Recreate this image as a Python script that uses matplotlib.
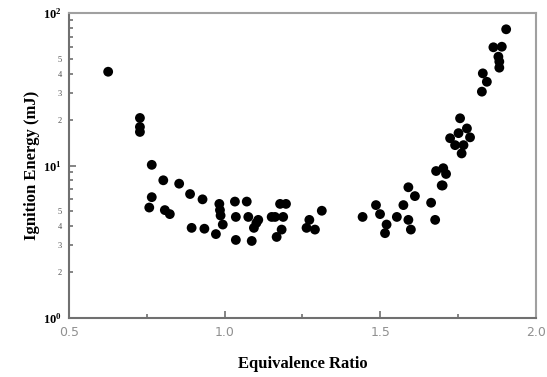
import matplotlib.pyplot as plt
import numpy as np
from matplotlib.ticker import LogLocator, FixedLocator, FuncFormatter

# Equivalence ratio vs minimum ignition energy
phi = [0.626, 0.728, 0.728, 0.728, 0.766, 0.803, 0.854, 0.766, 0.758, 0.808,
       0.824, 0.889, 0.929, 0.894, 0.935, 0.972, 0.983, 0.985, 0.987, 0.994,
       1.033, 1.036, 1.036, 1.071, 1.076, 1.108, 1.094, 1.087, 1.102, 1.178,
       1.197, 1.151, 1.162, 1.188, 1.183, 1.167, 1.312, 1.272, 1.263, 1.290,
       1.443, 1.486, 1.499, 1.520, 1.515, 1.553, 1.574, 1.590, 1.611, 1.590,
       1.598, 1.663, 1.676, 1.700, 1.679, 1.702, 1.711, 1.697, 1.904, 1.863,
       1.890, 1.879, 1.882, 1.882, 1.829, 1.842, 1.826, 1.756, 1.778, 1.751,
       1.724, 1.788, 1.740, 1.767, 1.761]
energy = [41.2, 20.5, 17.9, 16.6, 10.1, 8.0, 7.6, 6.2, 5.3, 5.1,
          4.8, 6.5, 6.0, 3.9, 3.85, 3.55, 5.6, 5.1, 4.7, 4.1,
          5.8, 4.6, 3.25, 5.8, 4.6, 4.4, 3.9, 3.2, 4.2, 5.6,
          5.6, 4.6, 4.6, 4.6, 3.8, 3.4, 5.05, 4.4, 3.9, 3.8,
          4.6, 5.5, 4.8, 4.1, 3.6, 4.6, 5.5, 7.2, 6.3, 4.4,
          3.8, 5.7, 4.4, 7.4, 9.2, 9.6, 8.8, 7.4, 78.2, 59.6,
          60.1, 51.7, 48.0, 43.8, 40.2, 35.4, 30.5, 20.4, 17.5, 16.3,
          15.1, 15.3, 13.6, 13.6, 12.0]

serif = 'Liberation Serif'
grey = '#707070'
plt.rcParams['mathtext.fontset'] = 'custom'
plt.rcParams['mathtext.rm'] = serif
plt.rcParams['mathtext.bf'] = serif + ':bold'

fig = plt.figure(figsize=(5.47, 3.77), dpi=100)
ax = fig.add_axes([0.126, 0.1565, 0.854, 0.809])

ax.scatter(phi, energy, s=50, color='black', edgecolors='none', zorder=3)

ax.set_yscale('log')
ax.set_xlim(0.5, 2.0)
ax.set_ylim(1, 100)

# x ticks
ax.set_xticks([0.5, 1.0, 1.5, 2.0])
ax.set_xticklabels(['0.5', '1.0', '1.5', '2.0'])
ax.xaxis.set_minor_locator(FixedLocator([0.75, 1.25, 1.75]))


def minor_label(v, p):
    m = int(round(v / 10 ** np.floor(np.log10(v) + 1e-9)))
    return str(m) if m in (2, 3, 4, 5) else ''


# y ticks
ax.yaxis.set_major_locator(FixedLocator([1, 10, 100]))
ax.yaxis.set_major_formatter(FuncFormatter(lambda v, p: r'$\mathbf{10^{%d}}$' % int(round(np.log10(v)))))
ax.yaxis.set_minor_locator(LogLocator(base=10, subs=np.arange(2, 10)))
ax.yaxis.set_minor_formatter(FuncFormatter(minor_label))

ax.tick_params(which='both', direction='in', color=grey, width=1.2)
ax.tick_params(which='major', length=5)
ax.tick_params(which='minor', length=3)
ax.tick_params(axis='x', labelsize=9, labelcolor='#909090', pad=6)
ax.tick_params(axis='y', which='major', labelsize=9, pad=5)
ax.tick_params(axis='y', which='minor', labelsize=6, labelcolor='#505050', pad=5)
for lbl in ax.get_yticklabels(which='both'):
    lbl.set_family(serif)

for side in ax.spines.values():
    side.set_color('#a0a0a0')
    side.set_linewidth(1.5)
ax.spines['left'].set_color(grey)
ax.spines['bottom'].set_color(grey)

ax.set_xlabel('Equivalence Ratio', family=serif, fontweight='bold', fontsize=12, labelpad=12)
ax.set_ylabel('Ignition Energy (mJ)', family=serif, fontweight='bold', fontsize=12, labelpad=2)

fig.savefig('out.png', dpi=100)
